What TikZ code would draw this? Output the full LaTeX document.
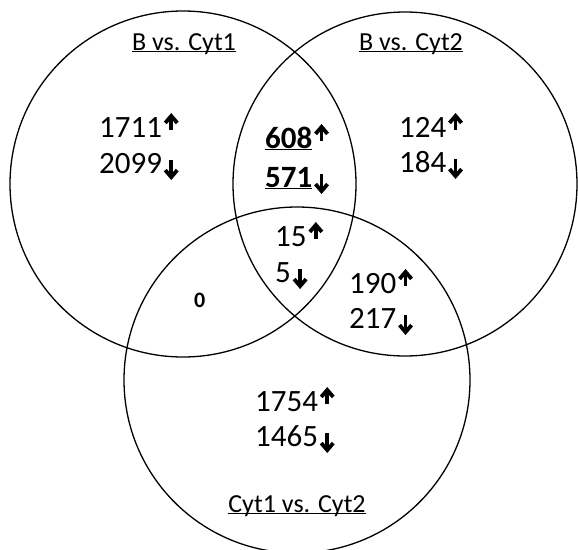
\documentclass[tikz,border=0pt]{standalone}
\usepackage{fontspec}
\setmainfont{Carlito}
\usepackage{tikz}
\usetikzlibrary{arrows.meta}
\newcommand\ulabel[1]{\underline{\smash{#1}}}

\begin{document}
\begin{tikzpicture}[x=1pt,y=-1pt,anchor=base west,inner sep=0pt,
    ring/.style={line width=1.3pt},
    count/.style={font=\fontsize{31}{37}\selectfont},
    setname/.style={anchor=base,font=\fontsize{26}{31}\selectfont},
    trend/.style={line width=3.8pt,-{Straight Barb[length=7pt,width=12pt]}}]
    \useasboundingbox (0,0) rectangle (578,549);
    %% the three sets
    \draw[ring] (183,184) circle[radius=173];
    \draw[ring] (405,184) circle[radius=172];
    \draw[ring] (297,380) circle[radius=173];
    %%
    \node[setname] (nameB1) at (184,50) {\ulabel{B vs. Cyt1}};
    \node[setname] (nameB2) at (411,50) {\ulabel{B vs. Cyt2}};
    \node[setname] (nameC)  at (297,512) {\ulabel{Cyt1 vs. Cyt2}};
    %%
    \path (99,137) node[count] (onlyB1up) {1711}
    ++(0,36) node[count] (onlyB1down) {2099};
    \path (265,148) node[count] (bothBup) {\bfseries\ulabel{608}}
    ++(0,39) node[count] (bothBdown) {\bfseries\ulabel{571}};
    \path (399,137) node[count] (onlyB2up) {124}
    ++(0,35) node[count] (onlyB2down) {184};
    %%
    \path (275,246) node[count] (allup) {15}
    ++(0,36) node[count] (alldown) {5};
    \path (349,293) node[count] (B2Cup) {190}
    ++(0,35) node[count] (B2Cdown) {217};
    \path (255,411) node[count] (onlyCup) {1754}
    ++(0,35) node[count] (onlyCdown) {1465};
    \node[font=\fontsize{22}{26}\selectfont\bfseries] (B1C) at (194,307) {0};
    %% up and down marks
    \foreach \n in {onlyB1up,bothBup,onlyB2up,allup,B2Cup,onlyCup}
      \draw[trend] ([xshift=9pt,yshift=7pt]\n.base east) -- ++(0,-17);
    \foreach \n in {onlyB1down,bothBdown,onlyB2down,alldown,B2Cdown,onlyCdown}
      \draw[trend] ([xshift=9pt,yshift=13pt]\n.base east) -- ++(0,20);
\end{tikzpicture}
\end{document}
